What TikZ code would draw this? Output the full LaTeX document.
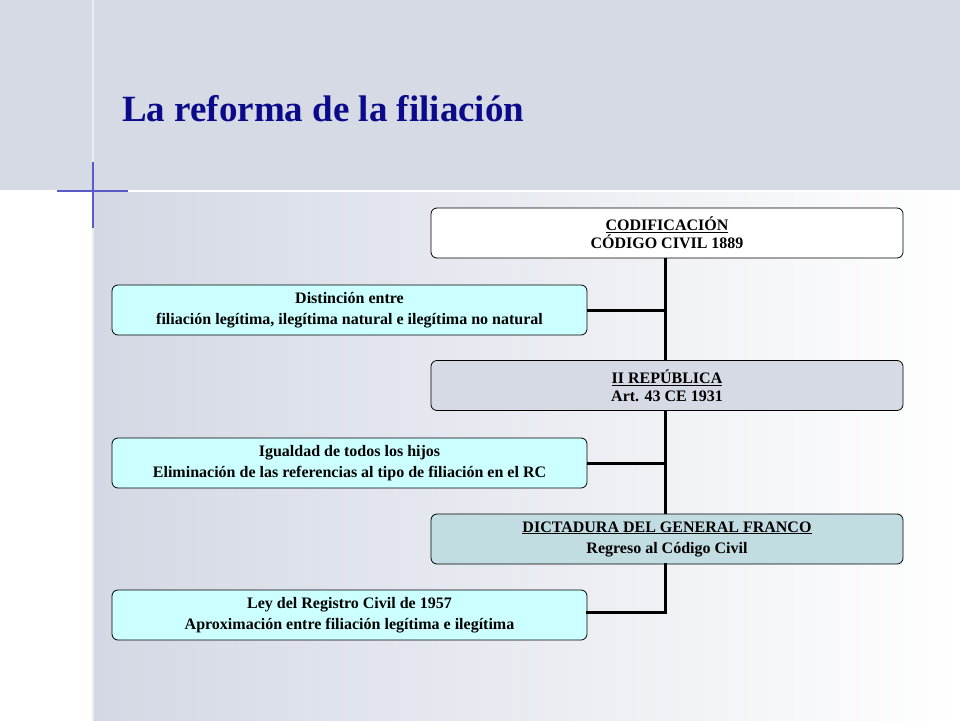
\documentclass[tikz,border=0pt]{standalone}
\usepackage{fontspec}
\setmainfont{Liberation Serif}
\usetikzlibrary{positioning}
\definecolor{band}{HTML}{D5DAE5}
\definecolor{lowleft}{HTML}{D3D8E4}
\definecolor{titleblue}{HTML}{0A0A8A}
\definecolor{cyanbox}{HTML}{CCFFFF}
\definecolor{repbox}{HTML}{D5DAE5}
\definecolor{francobox}{HTML}{C2DDE2}
\definecolor{accent}{HTML}{5A5AC8}
\tikzset{
  box/.style={draw=black, line width=0.8pt, rounded corners=6pt, minimum width=472pt, minimum height=50pt, align=center, inner sep=0pt, font=\fontsize{16}{21}\selectfont\bfseries},
  sidebox/.style={box, fill=cyanbox, minimum width=475pt},
  link/.style={draw=black, line width=3pt}
}
\begin{document}
\begin{tikzpicture}[x=1pt,y=-1pt]
\useasboundingbox (0,0) rectangle (960,720);
% background
\fill[white] (0,0) rectangle (960,720);
\shade[left color=lowleft, right color=white] (93,190) rectangle (960,720);
\fill[band] (0,0) rectangle (960,190);
\draw[white, line width=2pt] (0,191) -- (960,191);
\draw[white!85!gray, line width=2pt] (93,0) -- (93,720);
\draw[accent, line width=1.5pt] (57,191) -- (128,191);
\draw[accent, line width=1.5pt] (93,162) -- (93,228);
% title
\node[anchor=base west, text=titleblue, font=\fontsize{37}{42}\selectfont\bfseries, inner sep=0pt] (title) at (122,121) {La reforma de la filiación};
% boxes
\node[box, fill=white] (cod) at (667,233) {\underline{CODIFICACIÓN}\\[-3pt] CÓDIGO CIVIL 1889};
\node[sidebox] (dist) at (349.5,310) {Distinción entre\\ filiación legítima, ilegítima natural e ilegítima no natural};
\node[box, fill=repbox] (rep) at (667,385.5) {\underline{II REPÚBLICA}\\[-3pt] Art. 43 CE 1931};
\node[sidebox] (igual) at (349.5,463) {Igualdad de todos los hijos\\ Eliminación de las referencias al tipo de filiación en el RC};
\node[box, fill=francobox] (franco) at (667,539) {\underline{DICTADURA DEL GENERAL FRANCO}\\ Regreso al Código Civil};
\node[sidebox] (ley) at (349.5,615) {Ley del Registro Civil de 1957\\ Aproximación entre filiación legítima e ilegítima};
% connectors
\coordinate (j1) at (dist.east -| 665,0);
\coordinate (j2) at (igual.east -| 665,0);
\coordinate (j3) at (665,612);
\draw[link] (665,0 |- cod.south) -- (665,0 |- rep.north);
\draw[link] (665,0 |- rep.south) -- (665,0 |- franco.north);
\draw[link, line cap=rect] (665,0 |- franco.south) -- (j3) -- (j3 -| ley.east);
\draw[link] (dist.east) -- (j1);
\draw[link] (igual.east) -- (j2);
\end{tikzpicture}
\end{document}
